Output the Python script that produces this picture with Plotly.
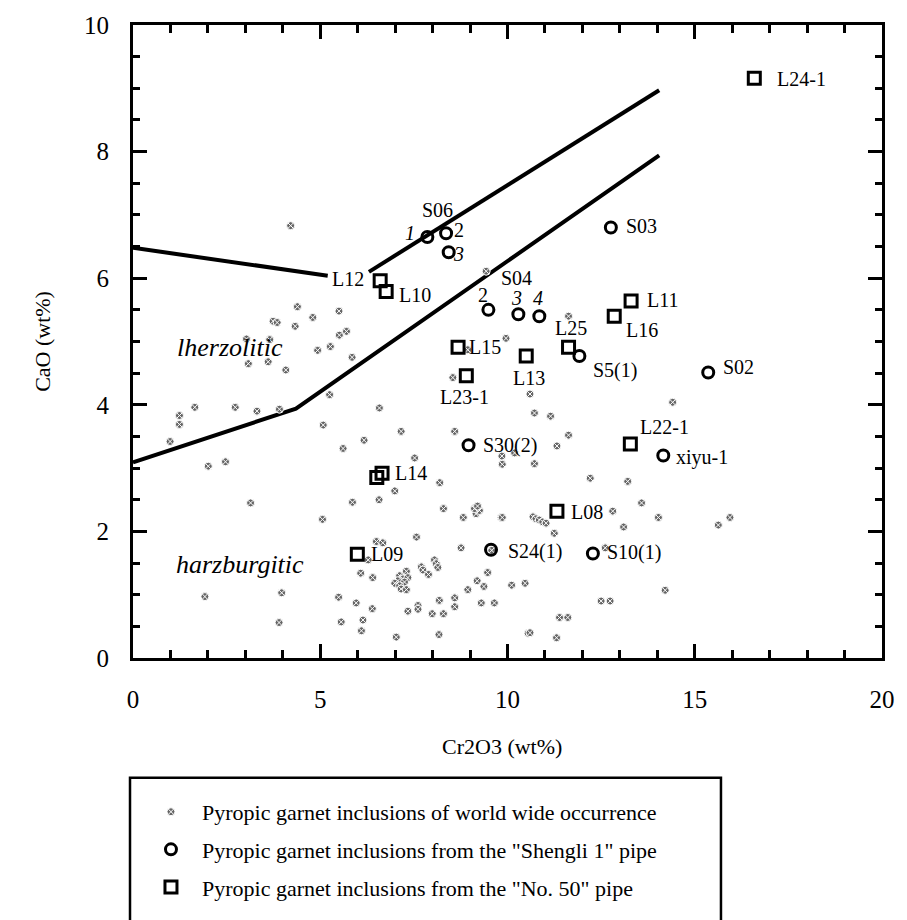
import plotly.graph_objects as go

# ---------------- data ----------------
# World-wide pyropic garnet inclusions (Cr2O3, CaO)
world_x = [4.21, 9.43, 4.39, 4.80, 3.74, 3.85, 4.33, 3.03, 3.65, 4.93, 5.27, 5.50, 5.51, 5.70, 5.85,
           3.08, 3.61, 4.08, 5.25, 1.65, 2.73, 3.31, 3.91, 1.24, 1.24, 5.08, 0.99, 6.58, 7.16, 6.17,
           5.61, 8.59, 2.01, 2.47, 7.52, 9.85, 8.19, 6.99, 5.86, 6.57, 3.14, 8.29, 5.06, 8.82, 9.16,
           9.25, 9.12, 9.20, 9.83, 6.50, 6.67, 7.57, 8.76, 6.28, 6.08, 6.40, 8.05, 8.10, 8.14, 7.70,
           7.74, 7.89, 7.30, 7.12, 7.21, 7.34, 7.07, 6.99, 7.25, 7.12, 7.16, 7.30, 9.47, 9.19, 9.37,
           8.94, 10.11, 10.47, 8.59, 8.59, 8.18, 9.30, 9.65, 5.96, 6.39, 7.61, 7.61, 7.34, 7.99, 8.29,
           6.14, 6.10, 7.03, 8.17, 10.55, 1.92, 3.97, 5.49, 3.90, 5.56,
           9.96, 11.63, 8.94, 8.54, 10.60, 10.72, 11.15, 14.41, 11.63, 11.32, 10.19, 9.86, 10.72,
           12.21, 13.21, 13.58, 12.81, 9.86, 10.68, 10.76, 10.85, 10.94, 11.03, 11.25, 13.10, 14.03,
           15.63, 15.94, 12.61, 14.21, 12.50, 12.74, 11.39, 11.61, 10.60, 11.31, 9.58]
world_y = [6.83, 6.11, 5.55, 5.38, 5.32, 5.30, 5.24, 5.04, 5.03, 4.86, 4.92, 5.48, 5.10, 5.16, 4.75,
           4.65, 4.68, 4.55, 4.16, 3.96, 3.96, 3.90, 3.93, 3.83, 3.69, 3.68, 3.42, 3.95, 3.58, 3.44,
           3.31, 3.58, 3.03, 3.10, 3.16, 3.19, 2.77, 2.64, 2.46, 2.50, 2.45, 2.36, 2.19, 2.22, 2.28,
           2.33, 2.36, 2.40, 2.22, 1.84, 1.82, 1.91, 1.74, 1.55, 1.34, 1.27, 1.55, 1.49, 1.43, 1.44,
           1.39, 1.32, 1.37, 1.30, 1.25, 1.27, 1.22, 1.18, 1.20, 1.14, 1.09, 1.08, 1.35, 1.22, 1.13,
           1.08, 1.15, 1.18, 0.95, 0.81, 0.91, 0.87, 0.87, 0.87, 0.78, 0.83, 0.77, 0.74, 0.70, 0.70,
           0.60, 0.43, 0.33, 0.37, 0.39, 0.97, 1.03, 0.96, 0.56, 0.57,
           5.05, 5.40, 4.87, 4.43, 4.17, 3.87, 3.82, 4.04, 3.52, 3.35, 3.24, 3.06, 3.07,
           2.84, 2.79, 2.45, 2.32, 2.22, 2.23, 2.20, 2.18, 2.15, 2.13, 1.97, 2.07, 2.22,
           2.10, 2.22, 1.74, 1.07, 0.90, 0.90, 0.64, 0.64, 0.40, 0.32, 1.70]

# "Shengli 1" pipe (circles)
shengli_x = [7.86, 8.36, 8.43, 12.76, 9.49, 10.29, 10.85, 11.92, 15.36, 8.96, 14.16, 9.56, 12.28]
shengli_y = [6.65, 6.71, 6.41, 6.80, 5.50, 5.43, 5.40, 4.77, 4.51, 3.36, 3.20, 1.71, 1.65]

# "No. 50" pipe (squares)
no50_x = [16.59, 6.60, 6.76, 13.30, 12.85, 8.68, 11.63, 10.50, 8.90, 13.28, 6.65, 6.51, 5.99, 11.32]
no50_y = [9.16, 5.96, 5.79, 5.64, 5.40, 4.91, 4.91, 4.77, 4.46, 3.38, 2.92, 2.85, 1.64, 2.32]

# field boundary lines
line_a_x = [0.0, 5.2]
line_a_y = [6.48, 6.04]
line_b_x = [6.3, 14.05]
line_b_y = [6.10, 8.97]
line_c_x = [0.0, 4.35, 14.05]
line_c_y = [3.09, 3.94, 7.94]

# sample labels: (text, x, y, anchor)
labels = [
    ("S06", 8.12, 7.08, "center"), ("<i>1</i>", 7.39, 6.71, "center"), ("2", 8.70, 6.76, "center"),
    ("<i>3</i>", 8.68, 6.39, "center"), ("L12", 6.22, 5.98, "right"), ("L10", 7.05, 5.74, "left"),
    ("S04", 10.23, 6.01, "center"), ("2", 9.34, 5.74, "center"), ("<i>3</i>", 10.23, 5.68, "center"),
    ("<i>4</i>", 10.81, 5.68, "center"), ("S03", 13.10, 6.82, "left"), ("L24-1", 17.15, 9.14, "left"),
    ("L11", 13.67, 5.65, "left"), ("L16", 13.10, 5.18, "left"), ("L25", 11.70, 5.21, "center"),
    ("L15", 8.92, 4.92, "left"), ("L23-1", 8.85, 4.13, "center"), ("L13", 10.57, 4.43, "center"),
    ("S5(1)", 12.23, 4.54, "left"), ("S02", 15.70, 4.59, "left"), ("L22-1", 14.19, 3.65, "center"),
    ("xiyu-1", 14.45, 3.16, "left"), ("S30(2)", 9.30, 3.36, "left"), ("L14", 6.94, 2.92, "left"),
    ("L08", 11.65, 2.31, "left"), ("S24(1)", 9.96, 1.68, "left"), ("S10(1)", 12.59, 1.66, "left"),
    ("L09", 6.30, 1.64, "left"),
]
regions = [("<i>lherzolitic</i>", 2.59, 4.90), ("<i>harzburgitic</i>", 2.85, 1.48)]

legend_names = [
    "Pyropic garnet inclusions of world wide occurrence",
    "Pyropic garnet inclusions from the \"Shengli 1\" pipe",
    "Pyropic garnet inclusions from the \"No. 50\" pipe",
]

SERIF = "Liberation Serif, Times New Roman, serif"
NB = "\u00a0\u00a0"

fig = go.Figure()

for lx, ly in [(line_a_x, line_a_y), (line_b_x, line_b_y), (line_c_x, line_c_y)]:
    fig.add_trace(go.Scatter(x=lx, y=ly, mode="lines", line=dict(color="black", width=4),
                             showlegend=False, hoverinfo="skip"))

fig.add_trace(go.Scatter(
    x=world_x, y=world_y, mode="markers", name=NB + legend_names[0], legendgroup="a",
    marker=dict(symbol="circle-x", size=8, color="#666666", line=dict(color="white", width=1))))
fig.add_trace(go.Scatter(
    x=shengli_x, y=shengli_y, mode="markers", name=NB + legend_names[1], legendgroup="b",
    marker=dict(symbol="circle-open", size=11, color="black", line=dict(color="black", width=3))))
fig.add_trace(go.Scatter(
    x=no50_x, y=no50_y, mode="markers", name=NB + legend_names[2], legendgroup="c",
    marker=dict(symbol="square-open", size=12, color="black", line=dict(color="black", width=3))))

annotations = []
for t, x, y, anc in labels:
    annotations.append(dict(x=x, y=y, xref="x", yref="y", text=t, showarrow=False,
                            xanchor=anc, yanchor="middle",
                            font=dict(family=SERIF, size=20, color="black")))
for t, x, y in regions:
    annotations.append(dict(x=x, y=y, xref="x", yref="y", text=t, showarrow=False,
                            xanchor="center", yanchor="middle",
                            font=dict(family=SERIF, size=26, color="black")))
annotations.append(dict(x=0.492, y=-0.14, xref="paper", yref="paper", text="Cr2O3 (wt%)",
                        showarrow=False, xanchor="center", yanchor="middle",
                        font=dict(family=SERIF, size=22, color="black")))
annotations.append(dict(x=-0.121, y=0.5, xref="paper", yref="paper", text="CaO (wt%)",
                        showarrow=False, xanchor="center", yanchor="middle", textangle=-90,
                        font=dict(family=SERIF, size=22, color="black")))

axis_common = dict(showgrid=False, zeroline=False, showline=True, linecolor="black", linewidth=3,
                   mirror="ticks", ticks="inside", tickcolor="black", tickwidth=2.5,
                   tickfont=dict(family=SERIF, size=25, color="black"))

fig.update_layout(
    width=907, height=920,
    margin=dict(l=133, r=24, t=18, b=258),
    paper_bgcolor="white", plot_bgcolor="white",
    xaxis=dict(range=[0, 20], dtick=5, tick0=0, ticklen=14, ticklabelstandoff=17,
               minor=dict(dtick=1, ticklen=8, tickwidth=2.5, tickcolor="black", ticks="inside"),
               **axis_common),
    yaxis=dict(range=[0, 10], dtick=2, tick0=0, ticklen=14, ticklabelstandoff=16,
               minor=dict(dtick=0.5, ticklen=7, tickwidth=2.5, tickcolor="black", ticks="inside"),
               **axis_common),
    annotations=annotations,
    showlegend=True,
    legend=dict(x=0.024, y=-0.21, xanchor="left", yanchor="top", bgcolor="rgba(0,0,0,0)",
                borderwidth=0, tracegroupgap=6, itemsizing="trace",
                font=dict(family=SERIF, size=22, color="black")),
    shapes=[dict(type="rect", xref="paper", yref="paper", x0=-0.004, x1=0.785,
                 y0=-0.189, y1=-0.45, line=dict(color="black", width=2.5), fillcolor="rgba(0,0,0,0)")],
)

fig.write_html("out.html", config={"displayModeBar": False},
               post_script="document.body.style.margin='0px';document.body.style.overflow='hidden';")
